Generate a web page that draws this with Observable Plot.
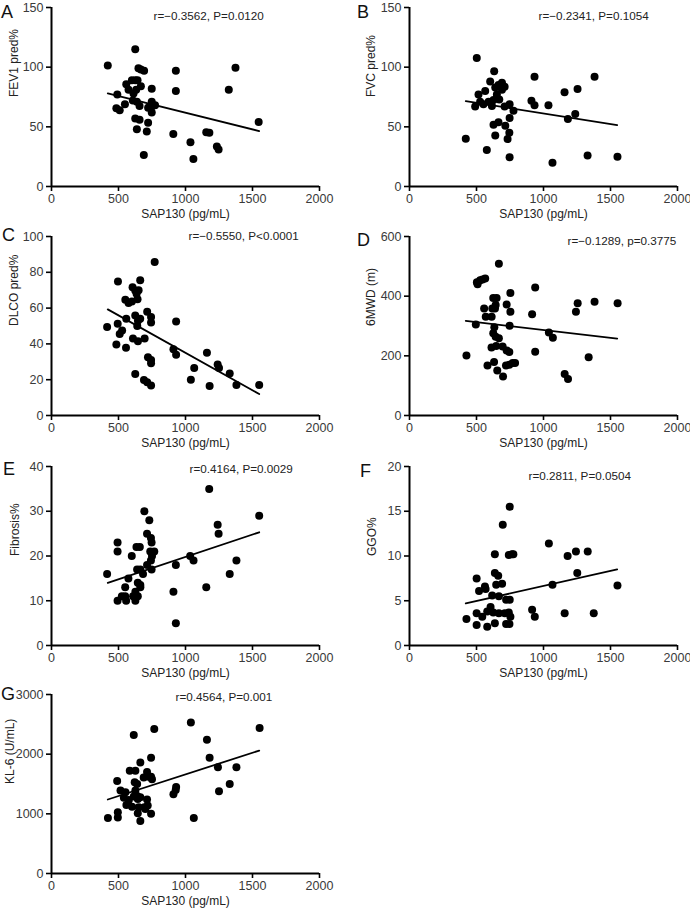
<!DOCTYPE html>
<html><head><meta charset="utf-8">
<script src="https://cdn.jsdelivr.net/npm/d3@7"></script>
<script src="https://cdn.jsdelivr.net/npm/@observablehq/plot@0.6"></script>
<style>
html,body{margin:0;padding:0;background:#fff;overflow:hidden}
#wrap{position:relative;width:690px;height:910px;font-family:"Liberation Sans",Arial,sans-serif;overflow:hidden}
.panel{position:absolute}
.letter{position:absolute;font-size:18px;line-height:18px;color:#111;font-family:"Liberation Sans",Arial,sans-serif}
</style></head><body><div id="wrap"></div><script>
// ---- data ----
const xTicks = [0, 500, 1000, 1500, 2000];
const xLabel = "SAP130 (pg/mL)";

const aX = [420,625,491,484,509,548,558,575,600,625,642,612,632,607,637,657,649,667,691,667,625,657,637,721,711,689,748,748,741,748,773,721,928,928,909,1037,1059,1155,1178,1234,1247,1323,1373,1546];
const aY = [101.5,115,77,65.5,64,69,85.6,81,89,89,89,78,81,72,71,67.5,99,98,97,84,57,56,48,53.5,46,26.5,82,71,65.5,62,68,66,97,80,44,37,23,45.5,45,33.5,31,81,99.5,54];
const aFitX = [420, 1550];
const aFitY = [78, 46.5];
const aTicks = [0, 50, 100, 150];

const bX = [420,502,577,490,515,527,552,565,590,602,632,640,627,615,652,664,690,710,690,670,627,664,640,715,732,745,747,747,710,776,747,910,933,933,1037,1067,1157,1182,1237,1254,1329,1381,1552];
const bY = [40,107.7,30.5,67,77,71,69,80,71,88,96.5,83,72.5,67.5,77,85,87,83.5,81,73,51.8,53.8,42.8,51,39.7,45,57.3,69,67,63.5,24.6,71.8,68,92,68,20,79,56.5,60.7,81.7,26,92,25];
const bFitX = [420, 1550];
const bFitY = [71.5, 51.5];
const bTicks = [0, 50, 100, 150];

const cX = [415,496,494,484,509,527,556,558,551,575,600,605,625,642,650,662,635,608,625,645,662,640,645,695,625,690,714,743,714,743,743,720,743,743,770,910,930,930,1040,1065,1160,1180,1240,1250,1330,1380,1550];
const cY = [49.4,74.8,51.2,39.6,45.6,47.5,37.8,54,64.6,62.8,63.7,71.7,69.8,65,70,75.6,68,43,55.9,53,54,50,41.5,43,23.2,19.9,18.6,16.8,58,55,52,32.6,31,29.2,85.7,37,34,52.5,20,26.5,35,16.5,28.5,26.5,23.5,17,17];
const cFitX = [420, 1550];
const cFitY = [59.3, 12];
const cTicks = [0, 20, 40, 60, 80, 100];

const dX = [425,495,503,508,527,545,565,582,557,569,613,618,625,650,643,638,667,633,625,643,667,612,647,695,725,745,631,655,698,720,745,770,788,725,753,753,747,915,938,938,1040,1070,1158,1183,1242,1255,1337,1381,1553];
const dY = [201,305,447,440,453,456,459,168,359,331,331,359,394,394,370,359,509,296,276,264,259,228,233,231,218,213,179,151,131,168,170,176,176,372,411,348,301,339,429,214,278,261,139,122,348,376,195,381,376];
const dFitX = [420, 1550];
const dFitY = [317, 258];
const dTicks = [0, 200, 400, 600];

const eX = [415,493,493,493,525,550,557,550,574,599,609,626,634,659,639,663,626,644,663,644,663,683,693,713,730,742,747,737,742,747,713,767,750,910,928,928,1035,1060,1177,1155,1240,1247,1330,1380,1550];
const eY = [16,10,21,23,11,11,10,13,15,20,11,10,22,22,17,17,12,14,13.5,11,13,16,30,25,28,24,23,21,19,17,18,21,20,12,18,5,20,19,35,13,27,25,16,19,29];
const eFitX = [420, 1550];
const eFitY = [14, 25.3];
const eTicks = [0, 10, 20, 30, 40];

const fX = [425,501,501,501,519,543,563,568,580,580,605,617,625,637,637,637,647,662,667,667,691,696,711,721,721,741,748,746,753,748,741,765,775,915,935,1040,1067,1158,1180,1252,1242,1330,1375,1552];
const fY = [2.95,7.5,3.6,2.3,6.1,3.2,6.6,6.3,2.1,3.8,4.3,5.6,3.7,8.1,10.2,2.5,6.8,7.8,5.5,3.6,6.9,13.5,3.6,5.1,2.4,3.7,5.1,2.4,3.2,15.5,10.1,10.2,10.2,4.0,3.2,11.4,6.8,3.6,10,8.1,10.5,10.5,3.6,6.7];
const fFitX = [420, 1550];
const fFitY = [4.7, 8.5];
const fTicks = [0, 5, 10, 15, 20];

const gX = [421,495,495,490,515,540,552,559,577,584,601,614,614,621,626,626,639,639,644,644,651,663,663,663,688,693,700,713,725,713,718,743,743,743,750,767,910,927,930,1040,1062,1160,1180,1242,1250,1330,1380,1553];
const gY = [930,940,1025,1550,1390,1270,1360,1150,1230,1720,1120,2320,1290,1530,1720,1390,1300,1500,1250,1010,1110,1860,880,1280,1610,1110,1080,1700,1620,1240,1140,1940,1620,1000,1580,2420,1330,1400,1450,2530,930,2240,1940,1780,1380,1500,1780,2440];
const gFitX = [420, 1550];
const gFitY = [1240, 2060];
const gTicks = [0, 1000, 2000, 3000];

const letters = ["A","B","C","D","E","F","G"];
const yLabels = ["FEV1 pred%","FVC pred%","DLCO pred%","6MWD (m)","Fibrosis%","GGO%","KL-6 (U/mL)"];
const notes = ["r=\u22120.3562, P=0.0120","r=\u22120.2341, P=0.1054","r=\u22120.5550, P<0.0001","r=\u22120.1289, p=0.3775","r=0.4164, P=0.0029","r=0.2811, P=0.0504","r=0.4564, P=0.001"];

// ---- layout ----
const panels = [
  {x:aX,y:aY,fx:aFitX,fy:aFitY,ticks:aTicks,ymax:150,left:0,top:-1,ml:51,ydx:-37,ndx:102,ndy:9,lx:1,ly:3},
  {x:bX,y:bY,fx:bFitX,fy:bFitY,ticks:bTicks,ymax:150,left:345,top:-1,ml:64,ydx:-38,ndx:129,ndy:9,lx:357,ly:3},
  {x:cX,y:cY,fx:cFitX,fy:cFitY,ticks:cTicks,ymax:100,left:0,top:228,ml:51,ydx:-37,ndx:137,ndy:0,lx:2,ly:226},
  {x:dX,y:dY,fx:dFitX,fy:dFitY,ticks:dTicks,ymax:600,left:345,top:228,ml:64,ydx:-38,ndx:158,ndy:5,lx:357,ly:231},
  {x:eX,y:eY,fx:eFitX,fy:eFitY,ticks:eTicks,ymax:40,left:0,top:458,ml:51,ydx:-36,ndx:138,ndy:3,lx:3,ly:460},
  {x:fX,y:fY,fx:fFitX,fy:fFitY,ticks:fTicks,ymax:20,left:345,top:458,ml:64,ydx:-37,ndx:119,ndy:10,lx:360,ly:462},
  {x:gX,y:gY,fx:gFitX,fy:gFitY,ticks:gTicks,ymax:3000,left:0,top:686,ml:51,ydx:-41,ndx:124,ndy:3,lx:1,ly:685}
];

const wrap = document.getElementById("wrap");
const font = "Liberation Sans, Arial, sans-serif";
const fmt = d => String(d);

panels.forEach((p, i) => {
  const pts = p.x.map((x, k) => ({x, y: p.y[k]}));
  const fit = p.fx.map((x, k) => ({x, y: p.fy[k]}));
  const chart = Plot.plot({
    width: 345, height: 230,
    marginLeft: p.ml, marginRight: 345 - p.ml - 268, marginTop: 8, marginBottom: 43,
    style: {fontFamily: font, fontSize: "12.5px", background: "transparent", overflow: "visible", color: "#000"},
    x: {domain: [0, 2000]},
    y: {domain: [0, p.ymax]},
    marks: [
      Plot.axisX({ticks: xTicks, tickFormat: fmt, tickSize: 5, tickPadding: 3, label: null, stroke: "#000", strokeWidth: 1.6, fill: "#3a3a3a", fontSize: 12.5}),
      Plot.axisY({ticks: p.ticks, tickFormat: fmt, tickSize: 5, tickPadding: 3, label: null, stroke: "#000", strokeWidth: 1.6, fill: "#3a3a3a", fontSize: 12.5}),
      Plot.ruleY([0], {stroke: "#000", strokeWidth: 2}),
      Plot.ruleX([0], {stroke: "#000", strokeWidth: 2}),
      Plot.line(fit, {x: "x", y: "y", stroke: "#000", strokeWidth: 1.8}),
      Plot.dot(pts, {x: "x", y: "y", r: 4, fill: "#000", stroke: "none"}),
      Plot.text([xLabel], {text: d => d, frameAnchor: "bottom", dy: 28, lineAnchor: "middle", fontSize: 12, fill: "#222"}),
      Plot.text([yLabels[i]], {text: d => d, frameAnchor: "left", dx: p.ydx, rotate: -90, lineAnchor: "middle", fontSize: 12, fill: "#222"}),
      Plot.text([notes[i]], {text: d => d, frameAnchor: "top-left", dx: p.ndx, dy: p.ndy, textAnchor: "start", lineAnchor: "middle", fontSize: 11.7, fill: "#222"})
    ]
  });
  chart.classList.add("panel");
  chart.style.left = p.left + "px";
  chart.style.top = p.top + "px";
  wrap.appendChild(chart);
  const L = document.createElement("div");
  L.className = "letter";
  L.textContent = letters[i];
  L.style.left = p.lx + "px";
  L.style.top = p.ly + "px";
  wrap.appendChild(L);
});
</script></body></html>
